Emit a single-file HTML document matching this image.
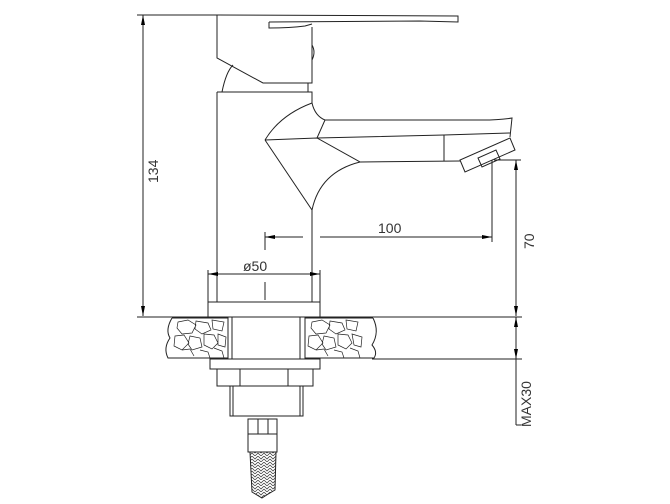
<!DOCTYPE html>
<html><head><meta charset="utf-8"><style>
html,body{margin:0;padding:0;background:#fff;}
svg{display:block;}
text{font-family:"Liberation Sans",sans-serif;fill:#333;}
</style></head><body>
<svg width="670" height="504" viewBox="0 0 670 504" xmlns="http://www.w3.org/2000/svg">
<defs>
<marker id="a" viewBox="0 0 10 4" refX="10" refY="2" markerWidth="10" markerHeight="4" orient="auto-start-reverse" markerUnits="userSpaceOnUse"><path d="M0,0 L10,2 L0,4z" fill="#000"/></marker>
<pattern id="br" width="6" height="6" patternUnits="userSpaceOnUse"><path d="M0,0 L3,3 L6,0 M0,3 L3,6 L6,3" fill="none" stroke="#333" stroke-width="0.7"/></pattern>
</defs>
<g fill="none" stroke="#222" stroke-width="1">
<line x1="137" y1="15" x2="217" y2="15"/>
<line x1="143" y1="15" x2="143" y2="316" marker-start="url(#a)" marker-end="url(#a)"/>
<path d="M217,15 L458,16 L458,22 L420,21 L269,22"/>
<path d="M269,22 L269,28 Q290,28 305,26 L312,24"/>
<path d="M217,15 L217,58 L263,83 L312,83 L312,27"/>
<path d="M312,45 Q316,52 312,60"/>
<path d="M222,92 Q226,72 233,65"/>
<path d="M308,92 L308,83"/>
<path d="M217,92 L312,92 L312,103 Q315,116 325,120"/>
<line x1="217" y1="92" x2="217" y2="302"/>
<line x1="312" y1="210" x2="312" y2="302"/>
<path d="M325,120 L482,120 Q500,120 512,118 L510,137"/>
<path d="M312,103 Q280,115 265,140"/>
<path d="M265,140 L317,138 L360,162 Q320,172 312,210 L265,140"/>
<path d="M317,138 L325,120"/>
<path d="M317,138 L444,135 L510,133"/>
<line x1="444" y1="135" x2="444" y2="161"/>
<path d="M360,162 L460,161"/>
<path d="M460,160 L465,172 L515,150 L510,138 Z"/>
<path d="M478,158 L482,167 L500,159 L496,150 Z"/>
<rect x="208" y="302" width="112" height="15"/>
<line x1="265" y1="232" x2="265" y2="250"/>
<line x1="265" y1="237" x2="303" y2="237" marker-start="url(#a)"/>
<line x1="320" y1="237" x2="492" y2="237" marker-end="url(#a)"/>
<line x1="492" y1="160" x2="492" y2="242"/>
<line x1="208" y1="270" x2="208" y2="317"/>
<line x1="320" y1="270" x2="320" y2="317"/>
<line x1="208" y1="274" x2="320" y2="274" marker-start="url(#a)" marker-end="url(#a)"/>
<line x1="265" y1="282" x2="265" y2="300"/>
<line x1="494" y1="160" x2="521" y2="160"/>
<line x1="516" y1="160" x2="516" y2="316" marker-start="url(#a)" marker-end="url(#a)"/>
<line x1="137" y1="317" x2="522" y2="317"/>
<line x1="372" y1="359" x2="522" y2="359"/>
<line x1="516" y1="317" x2="516" y2="359" marker-start="url(#a)" marker-end="url(#a)"/>
<line x1="516" y1="359" x2="516" y2="425"/>
<line x1="516" y1="425" x2="521" y2="425"/>
<path d="M172,318 Q165,330 170,338 Q163,348 168,358 L228,358 M172,318 L228,318"/>
<path d="M373,318 Q380,332 372,345 Q378,352 374,358 L305,358 M305,318 L373,318"/>
<g stroke-width="0.7">
<path d="M178,322 l10,-2 8,5 -4,8 -10,1 -5,-6z M196,321 l12,2 3,7 -9,4 -7,-5z M212,320 l12,2 -2,9 -9,-2z M175,336 l9,-1 5,8 -7,7 -8,-4z M190,336 l10,2 2,9 -10,3 -4,-6z M204,334 l10,1 4,8 -6,6 -8,-4z M218,334 l8,3 -1,10 -7,-2z M182,350 l8,-1 4,7 M200,350 l8,2 2,6 M214,348 l8,3 2,7"/>
<path d="M312,322 l10,-2 8,5 -4,8 -10,1 -5,-6z M330,321 l12,2 3,7 -9,4 -7,-5z M346,320 l12,2 -2,9 -9,-2z M309,336 l9,-1 5,8 -7,7 -8,-4z M324,336 l10,2 2,9 -10,3 -4,-6z M338,334 l10,1 4,8 -6,6 -8,-4z M352,334 l10,3 -1,10 -7,-2z M316,350 l8,-1 4,7 M334,350 l8,2 2,6 M350,348 l8,3 2,7"/>
</g>
<line x1="228" y1="317" x2="228" y2="359"/>
<line x1="232" y1="317" x2="232" y2="359"/>
<line x1="300" y1="317" x2="300" y2="359"/>
<line x1="305" y1="317" x2="305" y2="359"/>
<rect x="210" y="359" width="110" height="10"/>
<rect x="217" y="369" width="96" height="17"/>
<line x1="240" y1="369" x2="240" y2="386"/>
<line x1="288" y1="369" x2="288" y2="386"/>
<rect x="230" y="386" width="73" height="30"/>
<line x1="233" y1="386" x2="233" y2="416"/>
<line x1="300" y1="386" x2="300" y2="416"/>
<rect x="248" y="419" width="29" height="15"/>
<line x1="258" y1="419" x2="258" y2="434"/>
<line x1="268" y1="419" x2="268" y2="434"/>
<rect x="248" y="434" width="29" height="18"/>
<path d="M250,452 L276,452 L275,490 Q268,494 262,498 L252,492 Z" fill="url(#br)"/>
</g>
<text x="0" y="0" font-size="14" transform="translate(158,183) rotate(-90)">134</text>
<text x="378" y="233" font-size="14">100</text>
<text x="243" y="271" font-size="14">ø50</text>
<text x="0" y="0" font-size="14" transform="translate(534,249) rotate(-90)">70</text>
<text x="0" y="0" font-size="14" transform="translate(531,427) rotate(-90)">MAX30</text>
</svg>
</body></html>
